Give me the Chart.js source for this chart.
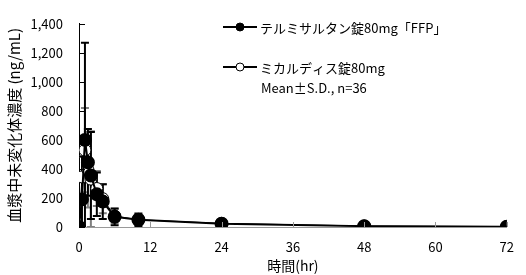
<!DOCTYPE html>
<html>
<head>
<meta charset="utf-8">
<script src="https://cdn.jsdelivr.net/npm/chart.js@4.4.0/dist/chart.umd.min.js"></script>
<style>
  html, body { margin: 0; padding: 0; background: #fff; }
  #wrap { width: 526px; height: 275px; }
</style>
</head>
<body>
<div id="wrap"><canvas id="pkChart"></canvas></div>
<script>
// 採血時間 (hr)
const times = [0, 0.5, 1, 1.5, 2, 3, 4, 6, 10, 24, 48, 72];
// テルミサルタン錠80mg「FFP」
const ffpMean = [0, 190, 600, 445, 355, 225, 175, 70, 50, 23, 6, 2];
const ffpSD = [0, 295, 670, 230, 300, 150, 120, 58, 43, 15, 5, 2];
// ミカルディス錠80mg
const micMean = [0, 345, 530, 395, 330, 265, 195, 75, 50, 25, 7, 3];
const micSD = [0, 140, 290, 260, 330, 120, 100, 50, 35, 15, 5, 2];

const xTicks = [0, 12, 24, 36, 48, 60, 72];
const yTicks = [0, 200, 400, 600, 800, 1000, 1200, 1400];

const legendLines = ["テルミサルタン錠80mg「FFP」", "ミカルディス錠80mg", "Mean±S.D., n=36"];

const FONT = '"Noto Sans CJK JP", "Noto Sans", sans-serif';

const toPoints = (ys) => times.map((t, i) => ({ x: t, y: ys[i] }));

// 標準偏差のエラーバー
const errorBars = {
    id: 'errorBars',
    beforeDatasetsDraw(chart) {
        const { ctx, chartArea, scales: { x, y } } = chart;
        ctx.save();
        ctx.beginPath();
        ctx.rect(chartArea.left, chartArea.top - 2, chartArea.width, chartArea.height + 2);
        ctx.clip();
        [[micMean, micSD, '#808080'], [ffpMean, ffpSD, '#000000']].forEach(([m, sd, col]) => {
            ctx.strokeStyle = col;
            ctx.lineWidth = 2;
            times.forEach((t, i) => {
                if (!sd[i]) return;
                const px = x.getPixelForValue(t);
                const top = y.getPixelForValue(m[i] + sd[i]);
                const bot = y.getPixelForValue(m[i] - sd[i]);
                ctx.beginPath();
                ctx.moveTo(px, top);
                ctx.lineTo(px, bot);
                ctx.moveTo(px - 4, top);
                ctx.lineTo(px + 4, top);
                ctx.moveTo(px - 4, bot);
                ctx.lineTo(px + 4, bot);
                ctx.stroke();
            });
        });
        ctx.restore();
    }
};

// 内向きの目盛りと凡例
const decorations = {
    id: 'decorations',
    afterDraw(chart) {
        const { ctx, chartArea, scales: { x, y } } = chart;
        ctx.save();
        ctx.lineWidth = 1;
        ctx.strokeStyle = '#000';
        yTicks.forEach(v => {
            const py = Math.round(y.getPixelForValue(v)) + 0.5;
            ctx.beginPath();
            ctx.moveTo(chartArea.left, py);
            ctx.lineTo(chartArea.left + 6, py);
            ctx.stroke();
        });
        ctx.strokeStyle = '#999';
        xTicks.slice(1).forEach(v => {
            const px = Math.round(x.getPixelForValue(v)) + 0.5;
            ctx.beginPath();
            ctx.moveTo(px, chartArea.bottom);
            ctx.lineTo(px, chartArea.bottom - 5);
            ctx.stroke();
        });

        // legend
        const lx = 223, rows = [27, 67];
        ctx.strokeStyle = '#000';
        ctx.lineWidth = 2;
        rows.forEach((ry, i) => {
            ctx.beginPath();
            ctx.moveTo(lx, ry);
            ctx.lineTo(lx + 34, ry);
            ctx.stroke();
            ctx.beginPath();
            ctx.arc(lx + 17, ry, 4, 0, Math.PI * 2);
            ctx.fillStyle = i === 0 ? '#000' : '#fff';
            ctx.fill();
            ctx.lineWidth = 1;
            ctx.stroke();
            ctx.lineWidth = 2;
        });
        ctx.fillStyle = '#000';
        ctx.font = '13px ' + FONT;
        ctx.textBaseline = 'middle';
        ctx.fillText(legendLines[0], 260, 28);
        ctx.fillText(legendLines[1], 260, 68);
        ctx.fillText(legendLines[2], 261, 88);
        ctx.restore();
    }
};

new Chart(document.getElementById('pkChart'), {
    type: 'scatter',
    data: {
        datasets: [
            {
                label: legendLines[0],
                data: toPoints(ffpMean),
                showLine: true,
                borderColor: '#000',
                borderWidth: 2,
                pointBackgroundColor: '#000',
                pointBorderColor: '#000',
                pointRadius: 6,
                order: 1
            },
            {
                label: legendLines[1],
                data: toPoints(micMean),
                showLine: true,
                borderColor: '#000',
                borderWidth: 1,
                pointBackgroundColor: '#fff',
                pointBorderColor: '#000',
                pointBorderWidth: 1,
                pointRadius: 6,
                order: 2
            }
        ]
    },
    options: {
        responsive: true,
        maintainAspectRatio: false,
        animation: false,
        layout: { padding: { top: 0, right: 9, left: 0, bottom: 0 } },
        plugins: {
            legend: { display: false },
            tooltip: { enabled: false }
        },
        scales: {
            x: {
                type: 'linear',
                min: 0,
                max: 72,
                afterBuildTicks: (s) => { s.ticks = xTicks.map(v => ({ value: v })); },
                afterFit: (s) => { s.height = 48; },
                grid: { display: false, drawTicks: false },
                border: { display: true, color: '#999', width: 1 },
                ticks: { color: '#000', padding: 12, font: { family: FONT, size: 13 } },
                title: {
                    display: true,
                    text: '時間(hr)',
                    color: '#000',
                    padding: { top: 0, bottom: 1 },
                    font: { family: FONT, size: 14 }
                }
            },
            y: {
                min: 0,
                max: 1400,
                afterBuildTicks: (s) => { s.ticks = yTicks.map(v => ({ value: v })); },
                afterFit: (s) => { s.width = 79; },
                grid: { display: false, drawTicks: false },
                border: { display: true, color: '#000', width: 1 },
                ticks: {
                    color: '#000',
                    padding: 16,
                    font: { family: FONT, size: 13 },
                    callback: (v) => v.toLocaleString('en-US')
                },
                title: {
                    display: true,
                    text: '血漿中未変化体濃度 (ng/mL)',
                    color: '#000',
                    padding: { top: 5, bottom: 0 },
                    font: { family: FONT, size: 15 }
                }
            }
        }
    },
    plugins: [errorBars, decorations]
});
</script>
</body>
</html>
